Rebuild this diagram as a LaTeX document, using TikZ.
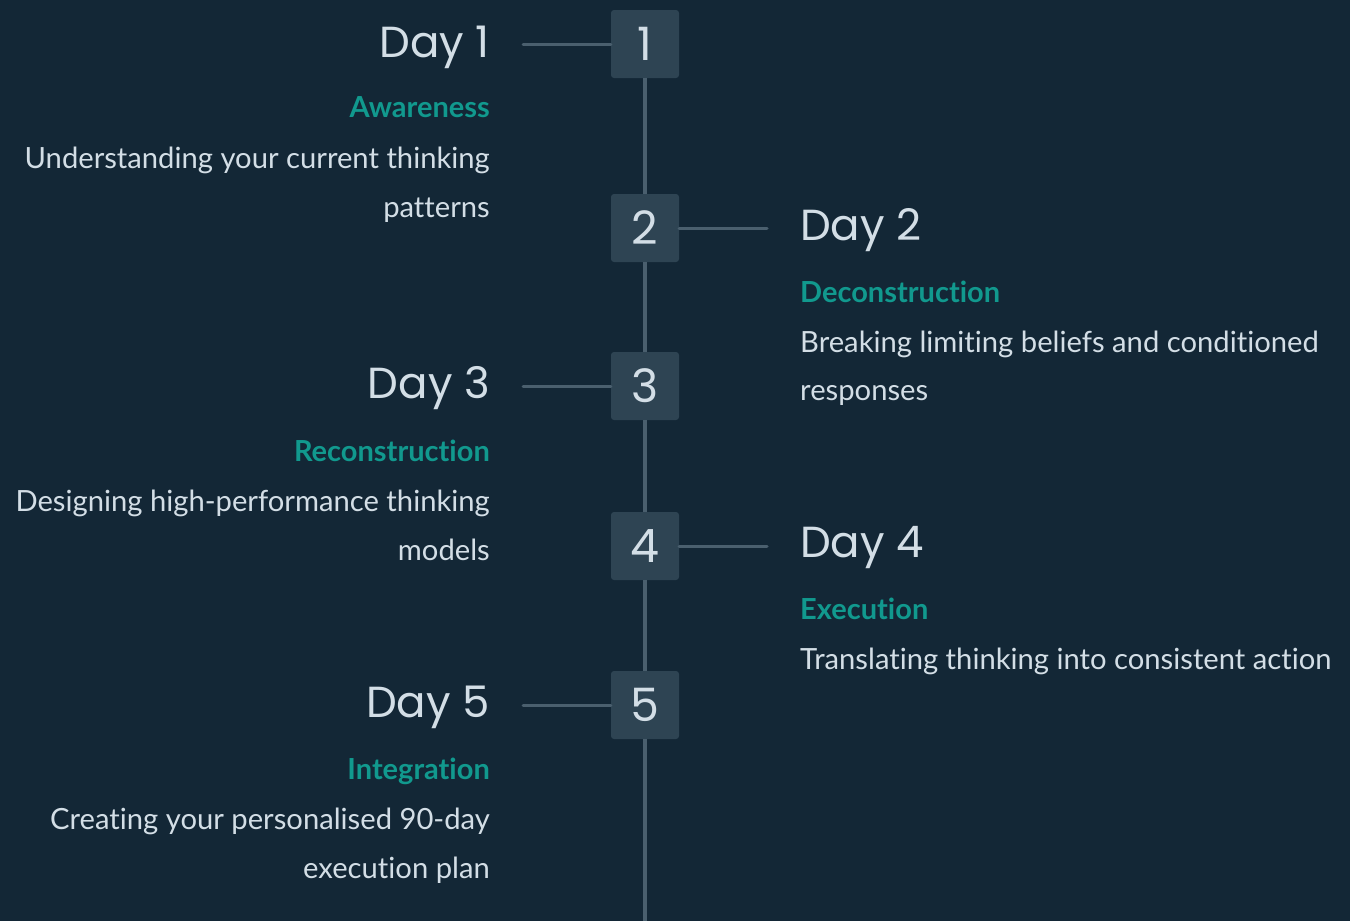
\documentclass[tikz,border=0pt]{standalone}
\usepackage{fontspec}
\setmainfont{Lato}[Ligatures={NoCommon,NoDiscretionary}]
\newfontfamily\headfont{Poppins}
\usetikzlibrary{positioning}

\definecolor{bgcol}{HTML}{132736}
\definecolor{boxcol}{HTML}{2E4453}
\definecolor{linecol}{HTML}{4A5F6E}
\definecolor{textcol}{HTML}{D3DEE6}
\definecolor{tealcol}{HTML}{11998E}

\begin{document}
\begin{tikzpicture}[x=1pt,y=-1pt,
                    every node/.style={inner sep=0pt},
                    daybox/.style={fill=boxcol,rounded corners=3pt,minimum size=68pt,
                                   text=textcol,font=\headfont\fontsize{46}{46}\selectfont},
                    dayhead/.style={text=textcol,font=\headfont\fontsize{43.5}{44}\selectfont},
                    phase/.style={text=tealcol,font=\fontsize{29}{30}\selectfont\bfseries},
                    info/.style={text=textcol,font=\fontsize{29.2}{50}\selectfont},
                    link/.style={draw=linecol,line width=3pt,line cap=round},
                    spine/.style={draw=linecol,line width=4pt}]

\fill[bgcol] (0,0) rectangle (1350,921);
\useasboundingbox (0,0) rectangle (1350,921);

% boxes on the spine
\node[daybox] (n1) at (645,44)  {1};
\node[daybox] (n2) at (645,228) {2};
\node[daybox] (n3) at (645,386) {3};
\node[daybox] (n4) at (645,546) {4};
\node[daybox] (n5) at (645,705) {5};
\coordinate (end) at (645,921);

\draw[spine] (n1) -- (n2) (n2) -- (n3) (n3) -- (n4) (n4) -- (n5) (n5) -- (end);

% left side
\coordinate (c1) at (523,44);
\coordinate (c3) at (523,386);
\coordinate (c5) at (523,705);
\draw[link] (c1) -- (n1.west);
\draw[link] (c3) -- (n3.west);
\draw[link] (c5) -- (n5.west);

\node[dayhead,anchor=base east] (d1) at (490,57) {Day 1};
\node[phase,anchor=base east] (p1) at (490,117) {Awareness};
\node[info,anchor=base east] (t1a) at (490,168) {Understanding your current thinking};
\node[info,anchor=base east] (t1b) at (490,217) {patterns};

\node[dayhead,anchor=base east] (d3) at (490,398) {Day 3};
\node[phase,anchor=base east] (p3) at (490,461) {Reconstruction};
\node[info,anchor=base east] (t3a) at (490,511) {Designing high-performance thinking};
\node[info,anchor=base east] (t3b) at (490,560) {models};

\node[dayhead,anchor=base east] (d5) at (490,717) {Day 5};
\node[phase,anchor=base east] (p5) at (490,779) {Integration};
\node[info,anchor=base east] (t5a) at (490,829) {Creating your personalised 90-day};
\node[info,anchor=base east] (t5b) at (490,878) {execution plan};

% right side
\coordinate (c2) at (767,228);
\coordinate (c4) at (767,546);
\draw[link] (n2.east) -- (c2);
\draw[link] (n4.east) -- (c4);

\node[dayhead,anchor=base west] (d2) at (800,240) {Day 2};
\node[phase,anchor=base west] (p2) at (800,302) {Deconstruction};
\node[info,anchor=base west] (t2a) at (800,352) {Breaking limiting beliefs and conditioned};
\node[info,anchor=base west] (t2b) at (800,400) {responses};

\node[dayhead,anchor=base west] (d4) at (800,557) {Day 4};
\node[phase,anchor=base west] (p4) at (800,619) {Execution};
\node[info,anchor=base west] (t4a) at (800,669) {Translating thinking into consistent action};

\end{tikzpicture}
\end{document}
